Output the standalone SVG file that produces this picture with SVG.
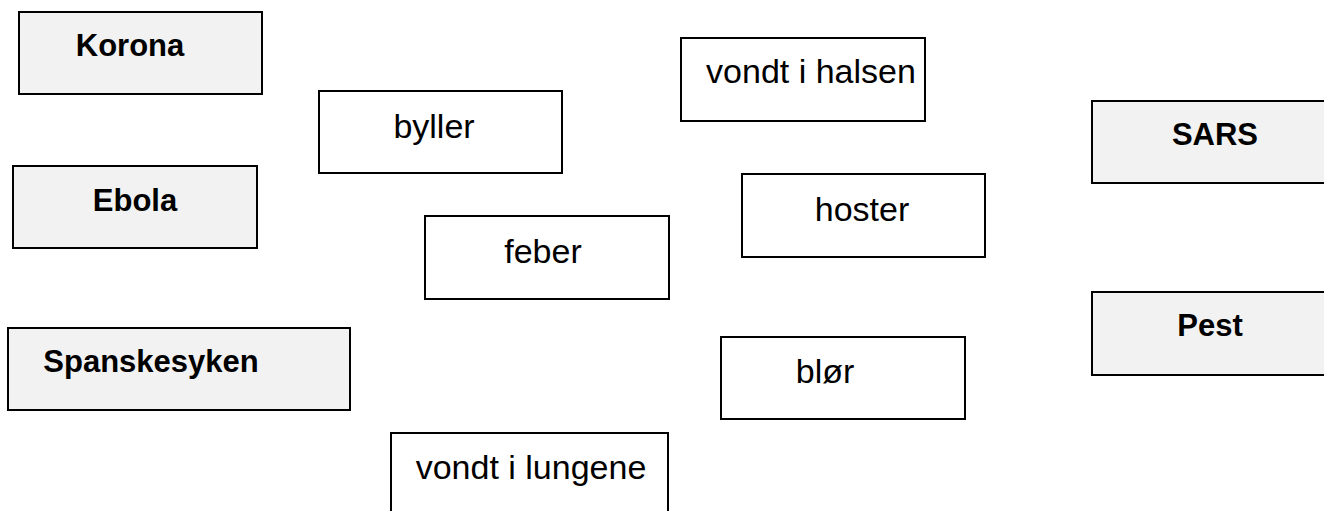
<svg xmlns="http://www.w3.org/2000/svg" width="1324" height="511" viewBox="0 0 1324 511">
<style>
.d{fill:#f2f2f2;stroke:#000;stroke-width:2}
.s{fill:#fff;stroke:#000;stroke-width:2}
.dt{font-family:"Liberation Sans",Arial,sans-serif;font-weight:bold;font-size:31px;fill:#000;text-anchor:middle}
.st{font-family:"Liberation Sans",Arial,sans-serif;font-size:34px;fill:#000;text-anchor:middle}
</style>
<rect width="1324" height="511" fill="#fff"/>
<g id="korona"><rect class="d" x="19" y="12" width="243" height="82"/><text class="dt" x="130" y="56">Korona</text></g>
<g id="ebola"><rect class="d" x="13" y="166" width="244" height="82"/><text class="dt" x="135" y="211">Ebola</text></g>
<g id="spanskesyken"><rect class="d" x="8" y="328" width="342" height="82"/><text class="dt" x="151" y="372">Spanskesyken</text></g>
<g id="sars"><rect class="d" x="1092" y="101" width="250" height="82"/><text class="dt" x="1215" y="145">SARS</text></g>
<g id="pest"><rect class="d" x="1092" y="292" width="250" height="83"/><text class="dt" x="1210" y="336">Pest</text></g>
<g id="byller"><rect class="s" x="319" y="91" width="243" height="82"/><text class="st" x="434" y="138">byller</text></g>
<g id="feber"><rect class="s" x="425" y="216" width="244" height="83"/><text class="st" x="543" y="263">feber</text></g>
<g id="vondt-i-halsen"><rect class="s" x="681" y="38" width="244" height="83"/><text class="st" x="811" y="83">vondt i halsen</text></g>
<g id="hoster"><rect class="s" x="742" y="174" width="243" height="83"/><text class="st" x="862" y="221">hoster</text></g>
<g id="blor"><rect class="s" x="721" y="337" width="244" height="82"/><text class="st" x="825" y="383">blør</text></g>
<g id="vondt-i-lungene"><rect class="s" x="391" y="433" width="277" height="90"/><text class="st" x="531" y="479">vondt i lungene</text></g>
<g id="connectors"></g>
</svg>
